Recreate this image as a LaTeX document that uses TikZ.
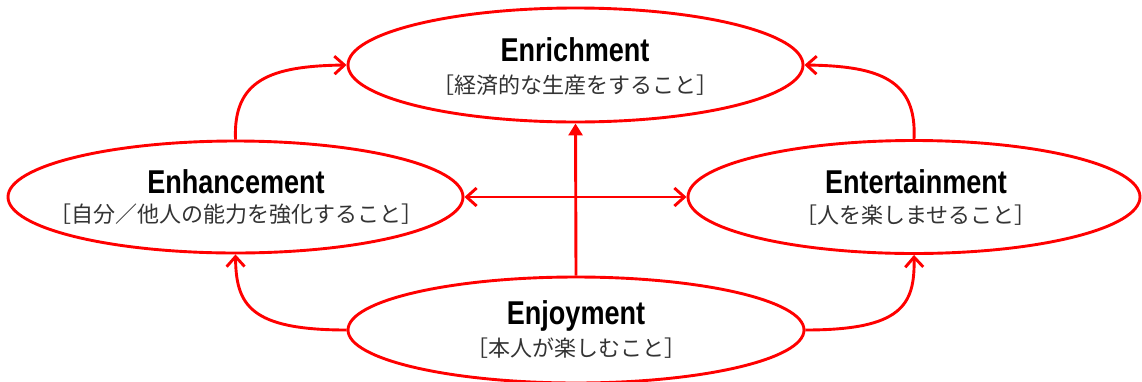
\documentclass[tikz,border=0pt]{standalone}
\usepackage{fontspec}
\setmainfont{Liberation Sans}
\newfontfamily\titlefont{Liberation Sans}[FakeStretch=0.82]
\newfontfamily\jpfont{Noto Sans CJK JP}
\usetikzlibrary{shapes.geometric,arrows.meta}
\begin{document}
\begin{tikzpicture}[x=1pt,y=-1pt,
  oval/.style={draw=red, line width=2.9pt, ellipse, inner sep=0pt},
  conn/.style={draw=red, line width=2.9pt},
  barbtip/.tip={Straight Barb[length=10pt,width=18pt]},
  tri/.tip={Triangle[length=12pt,width=14pt]},
  title/.style={font=\titlefont\bfseries\fontsize{33}{36}\selectfont, anchor=base, inner sep=0pt},
  jp/.style={font=\jpfont\fontsize{22}{24}\selectfont, text=black!80, anchor=base, inner sep=0pt}]
\useasboundingbox (0,0) rectangle (1142,381);
\fill[white] (0,0) rectangle (1142,381);
% ovals
\node[oval, minimum width=455pt, minimum height=114pt] (enr) at (575.5,65) {};
\node[oval, minimum width=455pt, minimum height=112pt] (enh) at (235.5,197) {};
\node[oval, minimum width=452pt, minimum height=113pt] (ent) at (914,197) {};
\node[oval, minimum width=456pt, minimum height=106pt] (enj) at (576,330) {};
% texts
\node[title] (enr-t) at (575,61) {Enrichment};
\node[jp] (enr-j) at (575,93) {［経済的な生産をすること］};
\node[title] (enh-t) at (236,193) {Enhancement};
\node[jp] (enh-j) at (236,222) {［自分／他人の能力を強化すること］};
\node[title] (ent-t) at (916,193) {Entertainment};
\node[jp] (ent-j) at (916,223) {［人を楽しませること］};
\node[title] (enj-t) at (576,324) {Enjoyment};
\node[jp] (enj-j) at (576,356) {［本人が楽しむこと］};
% connectors
\draw[conn, -barbtip] (enh.north) .. controls (233,80) and (270,66) .. (enr.west);
\draw[conn, -barbtip] (ent.north) .. controls (917,80) and (880,66) .. (enr.east);
\draw[conn, -barbtip] (enj.west) .. controls (250,330) and (236,305) .. (enh.south);
\draw[conn, -barbtip] (enj.east) .. controls (902,330) and (915,305) .. (ent.south);
\draw[conn, -tri] (enj.north) -- (enr.south);
\draw[conn, barbtip-barbtip] (enh.east) -- (ent.west);
\end{tikzpicture}
\end{document}
